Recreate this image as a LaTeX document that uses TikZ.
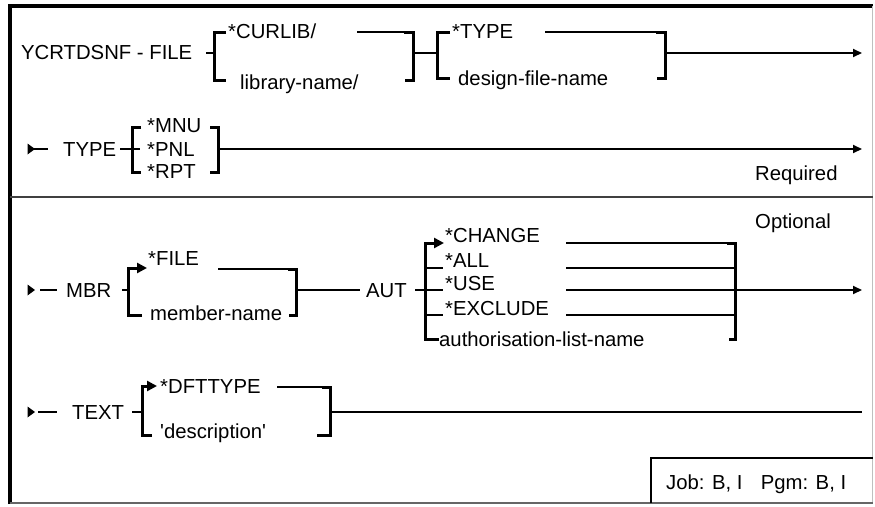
\documentclass[tikz,border=0pt]{standalone}
\usepackage{fontspec}
\setmainfont{Liberation Sans}
\usetikzlibrary{arrows.meta}
\begin{document}
\begin{tikzpicture}[x=1pt,y=-1pt,
  lbl/.style={inner sep=0pt, anchor=west, text height=14.3pt, text depth=0pt, font=\fontsize{20.3}{24}\selectfont},
  ln/.style={line width=2pt, line cap=butt},
  brk/.style={line width=3pt, line join=miter, line cap=butt},
  arr/.style={ln, -{Triangle[length=9pt,width=8pt]}},
  inarr/.style={line width=3pt, -{Triangle[length=10pt,width=10pt]}},
  frm/.style={line width=3.5pt},
  startmark/.style={fill=black}
]
\useasboundingbox (0,0) rectangle (875,506);
% ---------- frame ----------
\draw[frm] (10,504) -- (10,6) -- (873,6);
\draw[line width=0.8pt, black!25] (872,6) -- (872,503);
\draw[line width=2pt, black!60] (10,503) -- (873,503);
\draw[line width=2pt, black!75] (10,197) -- (873,197);
\draw[line width=2pt] (651,503) -- (651,458) -- (873,458);
\node[lbl] (job) at (666,482) {Job: B, I\hspace{0.9em}Pgm: B, I};

% ---------- row 1 ----------
\node[lbl] (cmd) at (21,52) {YCRTDSNF - FILE};
\node[lbl] (curlib) at (228,31) {*CURLIB/};
\node[lbl] (libname) at (240,82) {library-name/};
\node[lbl] (type1) at (452,31) {*TYPE};
\node[lbl] (dfname) at (458,78) {design-file-name};
\coordinate (a1) at (206,53);
\coordinate (b1t) at (214,32); \coordinate (b1m) at (214,53); \coordinate (b1b) at (214,80);
\coordinate (c1t) at (413,32); \coordinate (c1m) at (413,53); \coordinate (c1b) at (413,80);
\coordinate (b2t) at (437,32); \coordinate (b2m) at (437,53); \coordinate (b2b) at (437,78);
\coordinate (c2t) at (665,32); \coordinate (c2m) at (665,53); \coordinate (c2b) at (665,78);
\coordinate (e1) at (862,53);
\draw[ln] (a1) -- (b1m);
\draw[brk] (226,32) -- (b1t) -- (b1b) -- (226,80);
\draw[ln] (357,32) -- (c1t);
\draw[brk] (404,32) -- (c1t) -- (c1b) -- (405,80);
\draw[ln] (c1m) -- (b2m);
\draw[brk] (450,32) -- (b2t) -- (b2b) -- (450,78);
\draw[ln] (545,32) -- (c2t);
\draw[brk] (656,32) -- (c2t) -- (c2b) -- (657,78);
\draw[arr] (c2m) -- (e1);

% ---------- row 2 ----------
\fill[startmark] (27.5,143.5) -- (35,149) -- (27.5,154.5) -- cycle;
\draw[ln] (34,149) -- (48,149);
\node[lbl] (type2) at (63,149) {TYPE};
\node[lbl] (mnu) at (147,125) {*MNU};
\node[lbl] (pnl) at (147,149) {*PNL};
\node[lbl] (rpt) at (147,171) {*RPT};
\node[lbl] (req) at (755,173) {Required};
\coordinate (a2) at (120,149);
\coordinate (b3t) at (132,127); \coordinate (b3m) at (132,149); \coordinate (b3b) at (132,172);
\coordinate (c3t) at (218,127); \coordinate (c3m) at (218,149); \coordinate (c3b) at (218,172);
\coordinate (e2) at (862,149);
\draw[ln] (a2) -- (b3m) -- (140,149);
\draw[brk] (141,127) -- (b3t) -- (b3b) -- (141,172);
\draw[brk] (210,127) -- (c3t) -- (c3b) -- (210,172);
\draw[arr] (c3m) -- (e2);

% ---------- row 3 ----------
\node[lbl] (opt) at (755,221) {Optional};
\fill[startmark] (27.5,284.5) -- (35,290) -- (27.5,295.5) -- cycle;
\draw[ln] (40,290) -- (57,290);
\node[lbl] (mbr) at (66,290) {MBR};
\node[lbl] (file) at (148,258) {*FILE};
\node[lbl] (mname) at (150,313) {member-name};
\node[lbl] (aut) at (366,290) {AUT};
\coordinate (a3) at (122,290);
\coordinate (b4t) at (128,268); \coordinate (b4m) at (128,290); \coordinate (b4b) at (128,315);
\coordinate (c4t) at (296,269); \coordinate (c4m) at (296,290); \coordinate (c4b) at (296,315);
\coordinate (f4) at (360,290);
\draw[ln] (a3) -- (b4m);
\draw[brk] (142,315) -- (b4b) -- (b4t) -- (134,268);
\draw[inarr] (b4t) -- (147,268);
\draw[ln] (218,269) -- (c4t);
\draw[brk] (288,269) -- (c4t) -- (c4b) -- (289,315);
\draw[ln] (c4m) -- (f4);
% AUT group
\node[lbl] (chg) at (445,235) {*CHANGE};
\node[lbl] (all) at (445,260) {*ALL};
\node[lbl] (use) at (445,283) {*USE};
\node[lbl] (excl) at (445,308) {*EXCLUDE};
\node[lbl] (auth) at (439,339) {authorisation-list-name};
\coordinate (a5) at (415,290);
\coordinate (b5t) at (425,243); \coordinate (b5b) at (425,339);
\coordinate (b5a) at (425,268); \coordinate (b5u) at (425,290); \coordinate (b5e) at (425,315);
\coordinate (c5t) at (735,243); \coordinate (c5b) at (735,339);
\coordinate (c5a) at (735,268); \coordinate (c5u) at (735,290); \coordinate (c5e) at (735,315);
\coordinate (e3) at (862,290);
\draw[ln] (a5) -- (b5u);
\draw[brk] (439,339) -- (b5b) -- (b5t) -- (431,243);
\draw[inarr] (b5t) -- (444,243);
\draw[ln] (b5a) -- (443,268);
\draw[ln] (b5u) -- (443,290);
\draw[ln] (b5e) -- (443,315);
\draw[ln] (566,243) -- (c5t);
\draw[ln] (566,268) -- (c5a);
\draw[ln] (566,290) -- (c5u);
\draw[ln] (566,315) -- (c5e);
\draw[brk] (727,243) -- (c5t) -- (c5b) -- (729,339);
\draw[arr] (c5u) -- (e3);

% ---------- row 4 ----------
\fill[startmark] (27.5,406.5) -- (35,412) -- (27.5,417.5) -- cycle;
\draw[ln] (38,412) -- (57,412);
\node[lbl] (text) at (72,412) {TEXT};
\node[lbl] (dft) at (160,386) {*DFTTYPE};
\node[lbl] (desc) at (160,431) {\textquotesingle description\textquotesingle};
\coordinate (a6) at (132,412);
\coordinate (b6t) at (142,386); \coordinate (b6m) at (142,412); \coordinate (b6b) at (142,435);
\coordinate (c6t) at (330,387); \coordinate (c6m) at (330,412); \coordinate (c6b) at (330,435);
\coordinate (e4) at (862,412);
\draw[ln] (a6) -- (b6m);
\draw[brk] (152,435) -- (b6b) -- (b6t) -- (148,386);
\draw[inarr] (b6t) -- (157,386);
\draw[ln] (277,387) -- (c6t);
\draw[brk] (322,387) -- (c6t) -- (c6b) -- (317,435);
\draw[ln] (c6m) -- (e4);
\end{tikzpicture}
\end{document}
